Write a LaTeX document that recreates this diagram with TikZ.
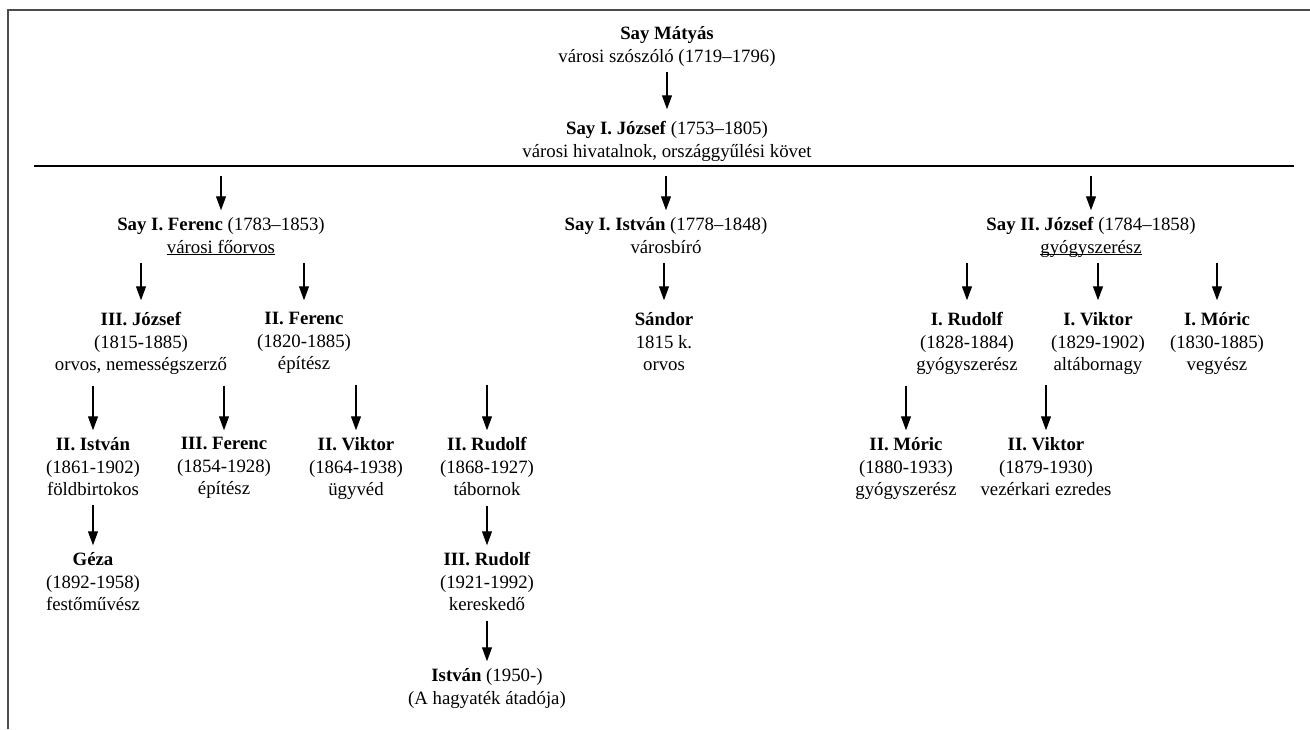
\documentclass[tikz,border=0pt]{standalone}
\usepackage{fontspec}
\setmainfont{Liberation Serif}
\usetikzlibrary{arrows.meta}
\tikzset{>={Triangle[length=14pt,width=10pt]}}
\tikzset{
    person/.style={align=center, anchor=north, inner ysep=3pt,
        font=\fontsize{18.8}{22.5}\selectfont,
        execute at begin node=\strut, execute at end node=\strut},
    gen2/.style={person, inner ysep=8pt},
    arr/.style={->, line width=1.2pt, shorten >=4pt}
}
\newcommand{\alahuz}[1]{\underline{\smash{#1}}}

\begin{document}
\begin{tikzpicture}[x=1pt,y=-1pt]
        \useasboundingbox (0,0) rectangle (1310,729);

        \coordinate (fb) at (8,729);
        \coordinate (fc) at (8,10);
        \coordinate (fr) at (1310,10);
        \coordinate (rl) at (34,166);
        \coordinate (rr) at (1294,166);
        \coordinate (split) at (667,176);

        \draw[black!70, line width=1.2pt] (fb) -- (fc) -- (fr);
        \draw[line width=1.4pt] (rl) -- (rr);

        \node[person] (matyas) at (667,23.25) {\textbf{Say Mátyás}\\városi szószóló (1719–1796)};
        \node[gen2] (jozsef1) at (667,113.25) {\textbf{Say I. József} (1753–1805)\\városi hivatalnok, országgyűlési követ};

        \node[person] (ferenc1) at (221,214.25) {\textbf{Say I. Ferenc} (1783–1853)\\\alahuz{városi főorvos}};
        \node[person] (istvan1) at (666,214.25) {\textbf{Say I. István} (1778–1848)\\városbíró};
        \node[person] (jozsef2) at (1091,214.25) {\textbf{Say II. József} (1784–1858)\\\alahuz{gyógyszerész}};

        \node[gen2] (jozsef3) at (141,304.25) {\textbf{III. József}\\(1815-1885)\\orvos, nemességszerző};
        \node[gen2] (ferenc2) at (304,304.25) {\textbf{II. Ferenc}\\(1820-1885)\\építész};
        \node[gen2] (sandor) at (664,304.25) {\textbf{Sándor}\\1815 k.\\orvos};
        \node[gen2] (rudolf1) at (967,304.25) {\textbf{I. Rudolf}\\(1828-1884)\\gyógyszerész};
        \node[gen2] (viktor1) at (1098,304.25) {\textbf{I. Viktor}\\(1829-1902)\\altábornagy};
        \node[gen2] (moric1) at (1217,304.25) {\textbf{I. Móric}\\(1830-1885)\\vegyész};

        \node[person] (istvan2) at (93,434.25) {\textbf{II. István}\\(1861-1902)\\földbirtokos};
        \node[person] (ferenc3) at (224,434.25) {\textbf{III. Ferenc}\\(1854-1928)\\építész};
        \node[person] (viktor2) at (356,434.25) {\textbf{II. Viktor}\\(1864-1938)\\ügyvéd};
        \node[person] (rudolf2) at (487,434.25) {\textbf{II. Rudolf}\\(1868-1927)\\tábornok};
        \node[person] (moric2) at (906,434.25) {\textbf{II. Móric}\\(1880-1933)\\gyógyszerész};
        \node[person] (viktor3) at (1046,434.25) {\textbf{II. Viktor}\\(1879-1930)\\vezérkari ezredes};

        \node[person] (geza) at (93,549.25) {\textbf{Géza}\\(1892-1958)\\festőművész};
        \node[person] (rudolf3) at (487,549.25) {\textbf{III. Rudolf}\\(1921-1992)\\kereskedő};

        \node[person] (istvan3) at (487,665.25) {\textbf{István} (1950-)\\(A hagyaték átadója)};

        \draw[arr] (matyas.south) -- (jozsef1.north);
        \foreach \c in {ferenc1,istvan1,jozsef2}
            \draw[arr] (split -| \c.north) -- (\c.north);
        \foreach \p/\c in {ferenc1/jozsef3,ferenc1/ferenc2,istvan1/sandor,
                jozsef2/rudolf1,jozsef2/viktor1,jozsef2/moric1,
                jozsef3/istvan2,jozsef3/ferenc3,ferenc2/viktor2,ferenc2/rudolf2,
                rudolf1/moric2,viktor1/viktor3,
                istvan2/geza,rudolf2/rudolf3,rudolf3/istvan3}
            \draw[arr] (\p.south -| \c.north) -- (\c.north);
    \end{tikzpicture}
\end{document}
